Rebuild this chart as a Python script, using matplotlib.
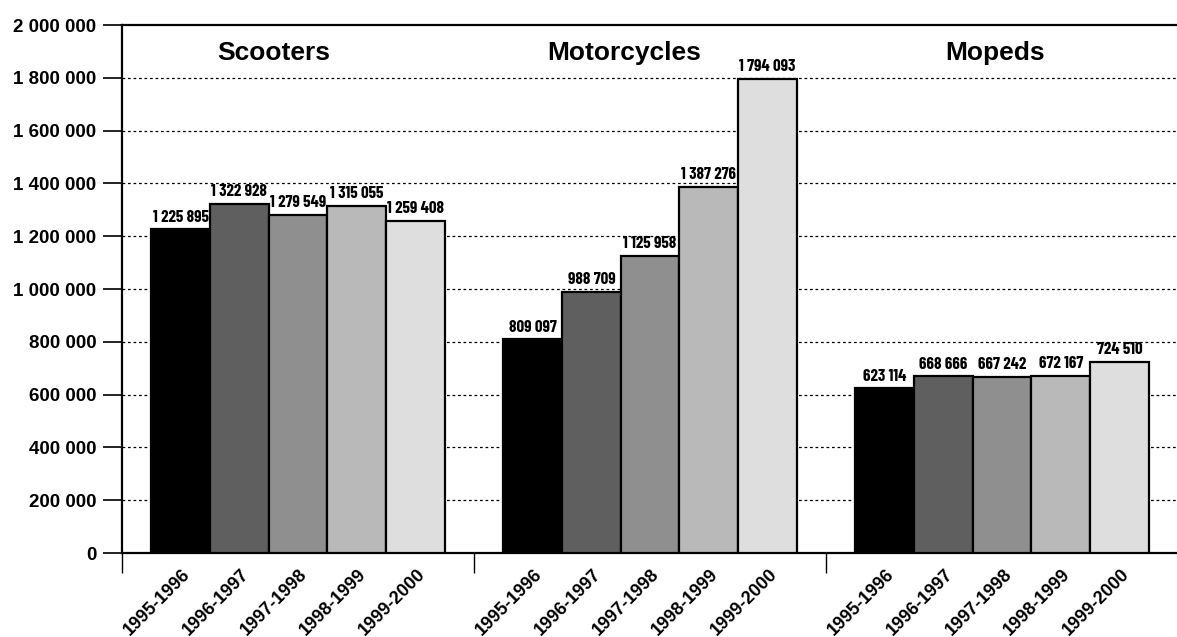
import matplotlib
matplotlib.use("Agg")
import matplotlib.pyplot as plt
from matplotlib.ticker import FixedLocator
from matplotlib.transforms import ScaledTranslation

groups = ["Scooters", "Motorcycles", "Mopeds"]
seasons = ["1995-1996", "1996-1997", "1997-1998", "1998-1999", "1999-2000"]
scooters = [1225895, 1322928, 1279549, 1315055, 1259408]
motorcycles = [809097, 988709, 1125958, 1387276, 1794093]
mopeds = [623114, 668666, 667242, 672167, 724510]
y_ticks = [0, 200000, 400000, 600000, 800000, 1000000, 1200000,
           1400000, 1600000, 1800000, 2000000]

colors = ["#000000", "#5f5f5f", "#8f8f8f", "#b9b9b9", "#dedede"]
series = [scooters, motorcycles, mopeds]


def fmt(v):
    return f"{v:,}".replace(",", " ")


plt.rcParams["font.family"] = ["Liberation Sans", "DejaVu Sans"]
narrow = ["Barlow Condensed", "Archivo Narrow", "Liberation Sans"]

fig = plt.figure(figsize=(11.77, 6.37), dpi=100)
ax = fig.add_axes([122 / 1177, 1 - 553 / 637, 1 - 122 / 1177 + 0.001, (553 - 25) / 637])

bar_w = 1 / 6
centers = []
for g, values in enumerate(series):
    for i, v in enumerate(values):
        x = g + bar_w * (i + 1)
        centers.append(x)
        ax.bar(x, v, width=bar_w, color=colors[i], edgecolor="black",
               linewidth=1.6, zorder=3)
        ax.annotate(fmt(v), (x, v), xytext=(0, 3.5), textcoords="offset points",
                    ha="center", va="bottom", fontsize=12.2, fontweight="bold",
                    family=narrow, zorder=4)

title_x = [0.43, 1.426, 2.48]
for tx, name in zip(title_x, groups):
    ax.text(tx, 1895000, name, ha="center", va="center", fontsize=19,
            fontweight="bold", zorder=4)

ax.set_xlim(0, 3)
ax.set_ylim(0, 2000000)

ax.set_yticks(y_ticks)
ax.set_yticklabels([fmt(t) for t in y_ticks], fontsize=13.5, fontweight="bold")
ax.tick_params(axis="y", length=13.5, width=1.2, pad=5, direction="out")

# group separators below the axis; season labels are placed as rotated text
ax.xaxis.set_major_locator(FixedLocator([0, 1, 2]))
ax.tick_params(axis="x", which="major", length=14.5, width=1.0, labelbottom=False)

label_tf = ax.get_xaxis_transform() + ScaledTranslation(0.07, -0.185, fig.dpi_scale_trans)
for x, season in zip(centers, seasons * 3):
    ax.text(x, 0, season, transform=label_tf, rotation=45, rotation_mode="anchor",
            ha="right", va="center", fontsize=13, fontweight="bold", clip_on=False)

for y in y_ticks[1:-1]:
    ax.axhline(y, color="black", linewidth=0.9, linestyle=(0, (2.2, 2.2)), zorder=1)

for side in ["left", "top", "bottom"]:
    ax.spines[side].set_linewidth(1.6)
ax.spines["right"].set_visible(False)

fig.savefig("out.png", dpi=100)
